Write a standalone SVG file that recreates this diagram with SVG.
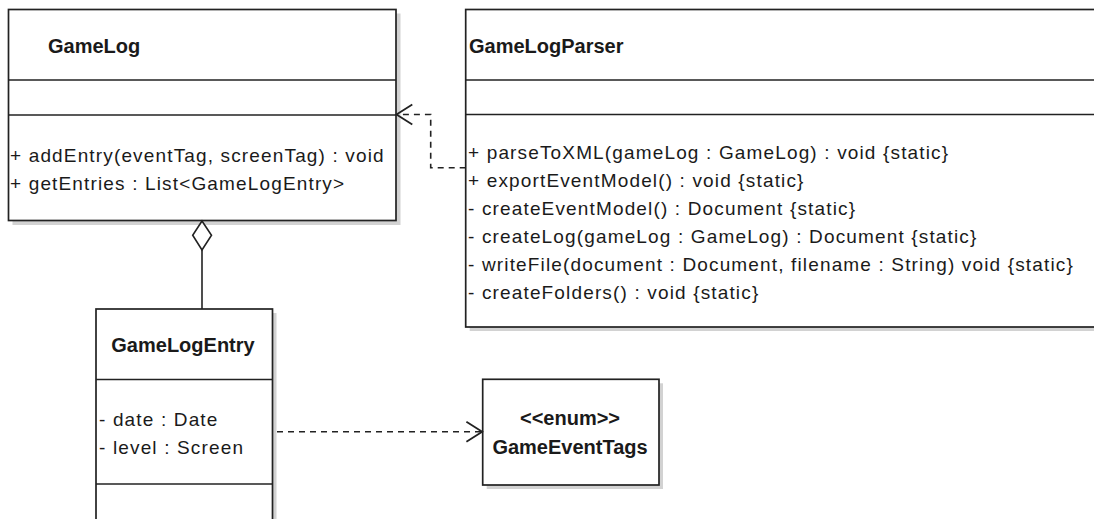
<svg xmlns="http://www.w3.org/2000/svg" width="1094" height="519" viewBox="0 0 1094 519">
  <style>
    .box { fill: #ffffff; stroke: #222222; stroke-width: 1.7; }
    .shadow { fill: #d2d2d2; stroke: none; }
    .sep { stroke: #222222; stroke-width: 1.7; fill: none; }
    .title { font-family: "Liberation Sans", Arial, sans-serif; font-size: 20px; font-weight: bold; fill: #1a1a1a; }
    .member { font-family: "Liberation Sans", Arial, sans-serif; font-size: 19px; letter-spacing: 1.15px; fill: #1a1a1a; }
    .dep { fill: none; stroke: #222222; stroke-width: 1.6; stroke-dasharray: 6 5; }
    .solid { fill: none; stroke: #222222; stroke-width: 1.6; }
  </style>
  <defs>
    <marker id="openArrow" markerUnits="userSpaceOnUse" markerWidth="20" markerHeight="24" viewBox="-17 -11 19 22" refX="0" refY="0" orient="auto">
      <path d="M -15 -9.5 L 0 0 L -15 9.5" fill="none" stroke="#222222" stroke-width="1.7" stroke-dasharray="none"/>
    </marker>
  </defs>

  <rect width="1094" height="519" fill="#ffffff"/>

  <!-- GameLog -->
  <g id="GameLog">
    <rect class="shadow" x="12.5" y="13.5" width="388" height="211.5"/>
    <rect class="box" x="8.5" y="9.5" width="387.5" height="211"/>
    <line class="sep" x1="8.5" y1="80" x2="396" y2="80"/>
    <line class="sep" x1="8.5" y1="115" x2="396" y2="115"/>
    <text class="title" x="48" y="53">GameLog</text>
    <text class="member" x="10" y="162">+ addEntry(eventTag, screenTag) : void</text>
    <text class="member" x="10" y="190">+ getEntries : List&lt;GameLogEntry&gt;</text>
  </g>

  <!-- GameLogParser (continues past the right edge) -->
  <g id="GameLogParser">
    <rect class="shadow" x="469.7" y="13.5" width="640" height="317.5"/>
    <rect class="box" x="465.7" y="9.5" width="640" height="317.5"/>
    <line class="sep" x1="465.7" y1="80" x2="1105.7" y2="80"/>
    <line class="sep" x1="465.7" y1="114.5" x2="1105.7" y2="114.5"/>
    <text class="title" x="469" y="53">GameLogParser</text>
    <text class="member" x="468" y="158.5">+ parseToXML(gameLog : GameLog) : void {static}</text>
    <text class="member" x="468" y="186.5">+ exportEventModel() : void {static}</text>
    <text class="member" x="468" y="214.5">- createEventModel() : Document {static}</text>
    <text class="member" x="468" y="242.5">- createLog(gameLog : GameLog) : Document {static}</text>
    <text class="member" x="468" y="270.5">- writeFile(document : Document, filename : String) void {static}</text>
    <text class="member" x="468" y="298.5">- createFolders() : void {static}</text>
  </g>

  <!-- GameLogEntry (continues past the bottom edge) -->
  <g id="GameLogEntry">
    <rect class="shadow" x="100" y="313" width="176.5" height="230"/>
    <rect class="box" x="96" y="309" width="176.5" height="230"/>
    <line class="sep" x1="96" y1="379.5" x2="272.5" y2="379.5"/>
    <line class="sep" x1="96" y1="484" x2="272.5" y2="484"/>
    <text class="title" x="183" y="352" text-anchor="middle">GameLogEntry</text>
    <text class="member" x="99" y="426">- date : Date</text>
    <text class="member" x="99" y="454">- level : Screen</text>
  </g>

  <!-- GameEventTags enumeration -->
  <g id="GameEventTags">
    <rect class="shadow" x="486.7" y="383.3" width="176.3" height="105.7"/>
    <rect class="box" x="482.7" y="379.3" width="176.3" height="105.7"/>
    <text class="title" x="570" y="425" text-anchor="middle">&lt;&lt;enum&gt;&gt;</text>
    <text class="title" x="570" y="453.5" text-anchor="middle">GameEventTags</text>
  </g>

  <!-- Connectors -->
  <g id="connectors">
    <!-- GameLogParser depends on GameLog -->
    <polyline class="dep" points="465.7,167.7 430.7,167.7 430.7,114.5 396.5,114.5" marker-end="url(#openArrow)"/>
    <!-- GameLog aggregates GameLogEntry -->
    <line class="solid" x1="202" y1="250" x2="202" y2="309"/>
    <polygon points="202,221 192.7,235.3 202,250 211.5,235.3" fill="#ffffff" stroke="#222222" stroke-width="1.6"/>
    <!-- GameLogEntry depends on GameEventTags -->
    <line class="dep" x1="277" y1="431.7" x2="482.2" y2="431.7" marker-end="url(#openArrow)"/>
  </g>
</svg>
